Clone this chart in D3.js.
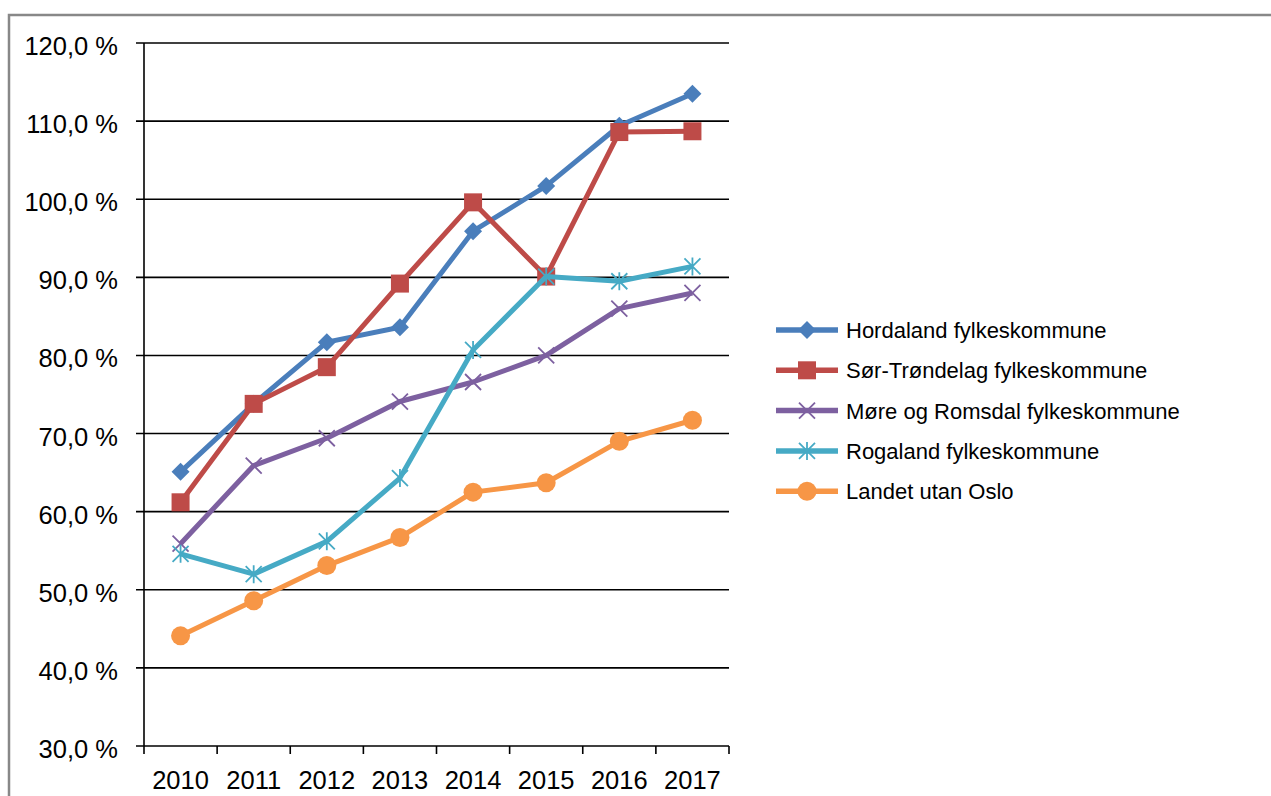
<!DOCTYPE html>
<html>
<head>
<meta charset="utf-8">
<script src="https://cdn.jsdelivr.net/npm/d3@7"></script>
<style>
  body { margin: 0; background: #fff; }
  svg { display: block; font-family: "Liberation Sans", Arial, sans-serif; }
</style>
</head>
<body>
<div id="chart"></div>
<script>
// Data
const years = ["2010", "2011", "2012", "2013", "2014", "2015", "2016", "2017"];
const seriesNames = [
    "Hordaland fylkeskommune",
    "Sør-Trøndelag fylkeskommune",
    "Møre og Romsdal fylkeskommune",
    "Rogaland fylkeskommune",
    "Landet utan Oslo"
];
const hordaland = [65.1, 73.8, 81.7, 83.6, 95.9, 101.7, 109.4, 113.5];
const sorTrondelag = [61.2, 73.8, 78.5, 89.2, 99.6, 90.1, 108.6, 108.7];
const moreRomsdal = [55.9, 65.9, 69.4, 74.1, 76.6, 80.0, 86.0, 88.0];
const rogaland = [54.6, 52.0, 56.2, 64.3, 80.7, 90.1, 89.5, 91.4];
const landet = [44.1, 48.6, 53.1, 56.7, 62.5, 63.7, 69.0, 71.7];
const yTicks = [30, 40, 50, 60, 70, 80, 90, 100, 110, 120];

const colors = ["#4a7ebb", "#be4b48", "#7d60a0", "#46aac5", "#f79646"];
const markers = ["diamond", "square", "cross", "star", "circle"];
const allValues = [hordaland, sorTrondelag, moreRomsdal, rogaland, landet];

const W = 1271, H = 796;
const plot = { left: 144, right: 729, top: 43, bottom: 746 };

const svg = d3.select("#chart").append("svg")
    .attr("width", W)
    .attr("height", H);

// outer frame
svg.append("rect")
    .attr("x", 9).attr("y", 15)
    .attr("width", W + 10).attr("height", H + 10)
    .attr("fill", "none")
    .attr("stroke", "#888")
    .attr("stroke-width", 2.5);

const x = d3.scaleBand().domain(years).range([plot.left, plot.right]);
const y = d3.scaleLinear().domain([30, 120]).range([plot.bottom, plot.top]);

// gridlines
svg.append("g").selectAll("line").data(yTicks).enter().append("line")
    .attr("x1", plot.left - 8).attr("x2", plot.right)
    .attr("y1", d => y(d)).attr("y2", d => y(d))
    .attr("stroke", "#000").attr("stroke-width", 1.6);

// y axis line
svg.append("line")
    .attr("x1", plot.left).attr("x2", plot.left)
    .attr("y1", plot.top).attr("y2", plot.bottom)
    .attr("stroke", "#000").attr("stroke-width", 1.6);

// y labels
svg.append("g").selectAll("text").data(yTicks).enter().append("text")
    .attr("x", 118)
    .attr("y", d => y(d) + 12)
    .attr("text-anchor", "end")
    .attr("font-size", 25.5)
    .attr("fill", "#000")
    .text(d => d.toFixed(1).replace(".", ",") + " %");

// x ticks at band edges
const edges = years.map(d => x(d)).concat([plot.right]);
svg.append("g").selectAll("line").data(edges).enter().append("line")
    .attr("x1", d => d).attr("x2", d => d)
    .attr("y1", plot.bottom).attr("y2", plot.bottom + 8)
    .attr("stroke", "#000").attr("stroke-width", 1.6);

svg.append("g").selectAll("text").data(years).enter().append("text")
    .attr("x", d => x(d) + x.bandwidth() / 2)
    .attr("y", 789)
    .attr("text-anchor", "middle")
    .attr("font-size", 25.5)
    .attr("fill", "#000")
    .text(d => d);

// marker drawing helper
function drawMarker(g, type, cx, cy, color) {
    if (type === "diamond") {
        const s = 9;
        g.append("path")
            .attr("d", `M${cx},${cy - s}L${cx + s},${cy}L${cx},${cy + s}L${cx - s},${cy}Z`)
            .attr("fill", color);
    } else if (type === "square") {
        g.append("rect")
            .attr("x", cx - 9).attr("y", cy - 9)
            .attr("width", 18).attr("height", 18)
            .attr("fill", color);
    } else if (type === "circle") {
        g.append("circle")
            .attr("cx", cx).attr("cy", cy).attr("r", 9.5)
            .attr("fill", color);
    } else if (type === "cross") {
        const s = 8;
        g.append("path")
            .attr("d", `M${cx - s},${cy - s}L${cx + s},${cy + s}M${cx - s},${cy + s}L${cx + s},${cy - s}`)
            .attr("stroke", color).attr("stroke-width", 1.8).attr("fill", "none");
    } else if (type === "star") {
        const s = 8;
        g.append("path")
            .attr("d", `M${cx - s},${cy - s}L${cx + s},${cy + s}M${cx - s},${cy + s}L${cx + s},${cy - s}M${cx},${cy - s - 1}L${cx},${cy + s + 1}`)
            .attr("stroke", color).attr("stroke-width", 1.8).attr("fill", "none");
    }
}

const line = d3.line()
    .x((d, i) => x(years[i]) + x.bandwidth() / 2)
    .y(d => y(d));

allValues.forEach((vals, si) => {
    const g = svg.append("g");
    g.append("path")
        .datum(vals)
        .attr("d", line)
        .attr("fill", "none")
        .attr("stroke", colors[si])
        .attr("stroke-width", 5)
        .attr("stroke-linejoin", "round");
    vals.forEach((v, i) => {
        drawMarker(g, markers[si], x(years[i]) + x.bandwidth() / 2, y(v), colors[si]);
    });
});

// legend
const legend = svg.append("g");
seriesNames.forEach((name, i) => {
    const ly = 330 + i * 40.3;
    legend.append("line")
        .attr("x1", 776).attr("x2", 838)
        .attr("y1", ly).attr("y2", ly)
        .attr("stroke", colors[i]).attr("stroke-width", 5.5);
    drawMarker(legend, markers[i], 807, ly, colors[i]);
    legend.append("text")
        .attr("x", 846).attr("y", ly + 8)
        .attr("font-size", 22)
        .attr("fill", "#000")
        .text(name);
});
</script>
</body>
</html>
